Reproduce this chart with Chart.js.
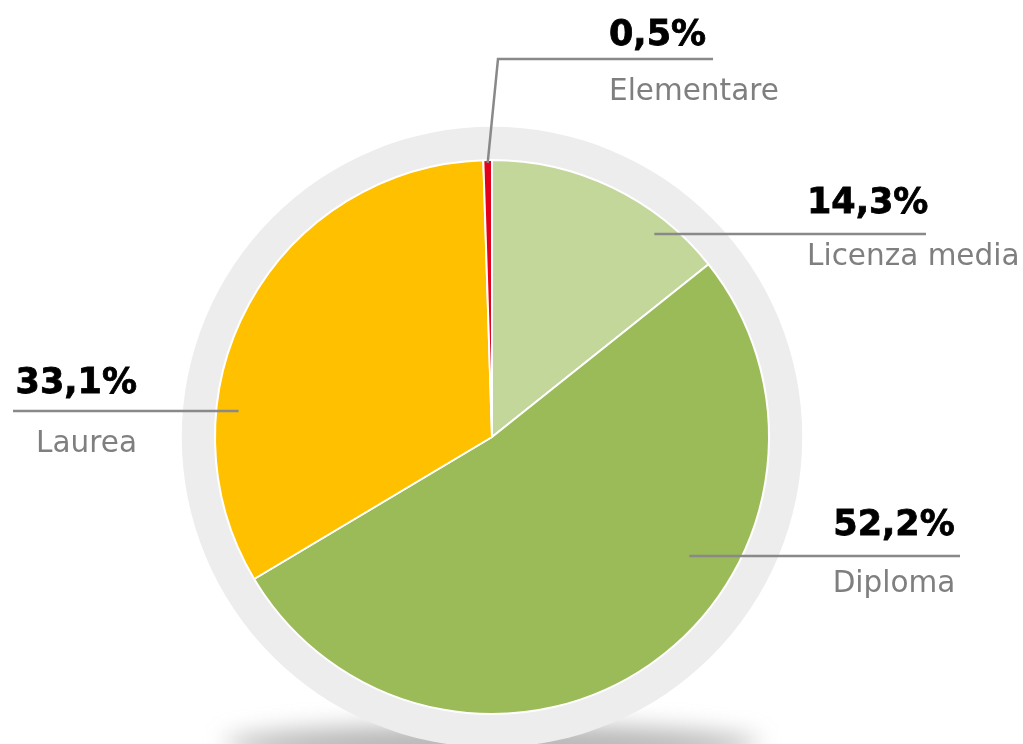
<!DOCTYPE html>
<html>
<head>
<meta charset="utf-8">
<script src="https://cdn.jsdelivr.net/npm/chart.js@4/dist/chart.umd.min.js"></script>
<style>
    html, body { margin: 0; padding: 0; background: #fff; }
    #wrap { width: 1023px; height: 744px; position: relative; }
</style>
</head>
<body>
<div id="wrap"><canvas id="pie"></canvas></div>
<script>
    // values, clockwise from 12 o'clock
    const categories = ['Licenza media', 'Diploma', 'Laurea', 'Elementare'];
    const values = [14.3, 52.2, 33.1, 0.5];
    const colors = ['#C4D79B', '#9BBB59', '#FFC000', '#E3001B'];

    // where each callout sits (leader start is a spot inside the slice)
    const callouts = [
        { frac: 0.75, rf: 0.94, lineY: 234, lineEnd: 926, align: 'left', textX: 807, pctY: 213, nameY: 265 },
        { frac: 0.37, rf: 0.83, lineY: 556, lineEnd: 960, align: 'center', textX: 894, pctY: 535, nameY: 592 },
        { frac: 0.31, rf: 0.92, lineY: 411, lineEnd: 13, align: 'right', textX: 137, pctY: 393, nameY: 452 },
        { frac: 0.5, rf: 0.99, lineY: 59, lineEnd: 713, elbowX: 498, align: 'left', textX: 609, pctY: 45, nameY: 100 }
    ];

    function fmtPct(v) {
        return v.toFixed(1).replace('.', ',') + '%';
    }

    const ringPlugin = {
        id: 'ring',
        beforeDatasetsDraw: function (chart) {
            const arc = chart.getDatasetMeta(0).data[0];
            const ctx = chart.ctx;
            const ringR = arc.outerRadius * 1.12;

            // soft shadow under the ring
            ctx.save();
            ctx.filter = 'blur(12px)';
            ctx.fillStyle = 'rgba(130,130,130,0.6)';
            ctx.beginPath();
            ctx.ellipse(arc.x, arc.y + ringR - 2, ringR * 0.86, 20, 0, 0, Math.PI * 2);
            ctx.fill();
            ctx.restore();

            ctx.save();
            ctx.fillStyle = '#EDEDED';
            ctx.beginPath();
            ctx.arc(arc.x, arc.y, ringR, 0, Math.PI * 2);
            ctx.fill();
            ctx.restore();
        },
        afterDatasetsDraw: function (chart) {
            const ctx = chart.ctx;
            const meta = chart.getDatasetMeta(0);
            ctx.save();
            meta.data.forEach(function (arc, i) {
                const c = callouts[i];
                const a = arc.startAngle + c.frac * (arc.endAngle - arc.startAngle);
                const sx = arc.x + Math.cos(a) * arc.outerRadius * c.rf;
                const sy = arc.y + Math.sin(a) * arc.outerRadius * c.rf;

                ctx.strokeStyle = '#898989';
                ctx.lineWidth = 2.5;
                ctx.beginPath();
                ctx.moveTo(sx, c.elbowX ? sy : c.lineY);
                if (c.elbowX) ctx.lineTo(c.elbowX, c.lineY);
                ctx.lineTo(c.lineEnd, c.lineY);
                ctx.stroke();

                ctx.textAlign = c.align;
                ctx.textBaseline = 'alphabetic';
                ctx.fillStyle = '#000';
                ctx.strokeStyle = '#000';
                ctx.lineWidth = 0.8;
                ctx.font = 'bold 35px "DejaVu Sans"';
                ctx.fillText(fmtPct(values[i]), c.textX, c.pctY);
                ctx.strokeText(fmtPct(values[i]), c.textX, c.pctY);
                ctx.fillStyle = '#7F7F7F';
                ctx.font = '29.5px "DejaVu Sans"';
                ctx.fillText(categories[i], c.textX, c.nameY);
            });
            ctx.restore();
        }
    };

    new Chart(document.getElementById('pie'), {
        type: 'pie',
        data: {
            labels: categories,
            datasets: [{
                data: values,
                backgroundColor: colors,
                borderColor: '#FFFFFF',
                borderWidth: 2
            }]
        },
        options: {
            responsive: true,
            maintainAspectRatio: false,
            animation: false,
            layout: { padding: { top: 159, bottom: 29, left: 214, right: 253 } },
            plugins: {
                legend: { display: false },
                tooltip: { enabled: false }
            }
        },
        plugins: [ringPlugin]
    });
</script>
</body>
</html>
